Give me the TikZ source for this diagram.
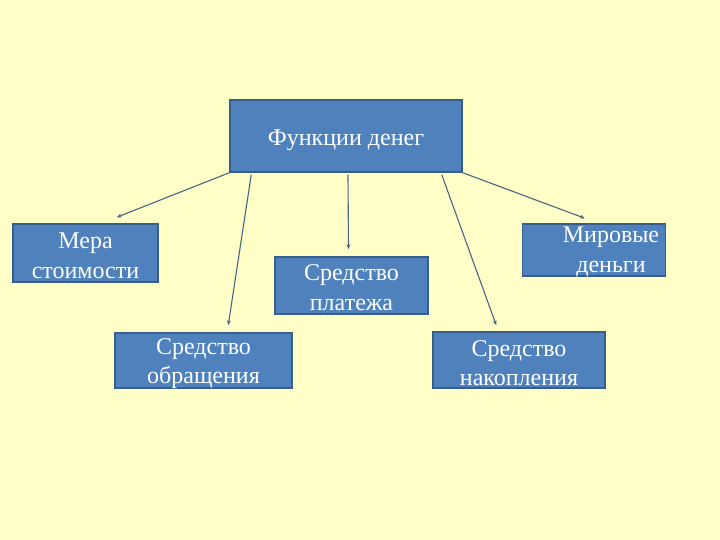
\documentclass[tikz,border=0pt]{standalone}
\usepackage{fontspec}
\setmainfont{Liberation Serif}
\usetikzlibrary{calc,arrows.meta}
\definecolor{bgcol}{HTML}{FFFFC8}
\definecolor{boxfill}{HTML}{4F81BD}
\definecolor{boxline}{HTML}{385D8A}
\definecolor{linkcol}{HTML}{4A6583}
\tikzset{
  fbox/.style={draw=boxline, fill=boxfill, line width=1.5pt, inner sep=0pt},
  ftxt/.style={text=white, font=\fontsize{24}{29.5}\selectfont, align=center, inner sep=0pt},
  link/.style={draw=linkcol, line width=1.1pt, -{Stealth[length=5pt,width=4pt]}}
}
\begin{document}
\begin{tikzpicture}[x=1pt,y=-1pt]
\fill[bgcol] (0,0) rectangle (720,540);
\useasboundingbox (0,0) rectangle (720,540);

\node[fbox, minimum width=232pt, minimum height=72pt] (top) at (346,136) {};
\node[ftxt] (toptxt) at ($(top.center)+(0,4.5)$) {Функции денег};
\node[fbox, minimum width=145pt, minimum height=58pt] (mera) at (85.5,253) {};
\node[ftxt] (meratxt) at ($(mera.center)+(0,3)$) {Мера\\стоимости};
\node[fbox, minimum width=177pt, minimum height=55pt] (obr) at (203.5,360.5) {};
\node[ftxt] (obrtxt) at ($(obr.center)+(0,3)$) {Средство\\обращения};
\node[fbox, minimum width=153pt, minimum height=57pt] (plat) at (351.5,285.5) {};
\node[ftxt] (plattxt) at ($(plat.center)+(0,2)$) {Средство\\платежа};
\node[fbox, minimum width=143pt, minimum height=52pt] (mir) at (594,250) {};
\node[ftxt] (mirtxt) at ($(mir.center)+(17,2)$) {Мировые\\деньги};
\node[fbox, minimum width=172pt, minimum height=56pt] (nak) at (519,360) {};
\node[ftxt] (naktxt) at ($(nak.center)+(0,3)$) {Средство\\накопления};

\draw[link] (top.south west) -- ($(mera.north east)+(-42,-6)$);
\draw[link] ($(top.south west)+(22,2)$) -- ($(obr.north west)+(114,-7)$);
\draw[link] ($(top.south)+(2,2)$) -- ($(plat.north)+(-3,-7)$);
\draw[link] ($(top.south east)+(-21,2)$) -- ($(nak.north west)+(64,-6)$);
\draw[link] (top.south east) -- ($(mir.north west)+(63,-5)$);
\end{tikzpicture}
\end{document}
